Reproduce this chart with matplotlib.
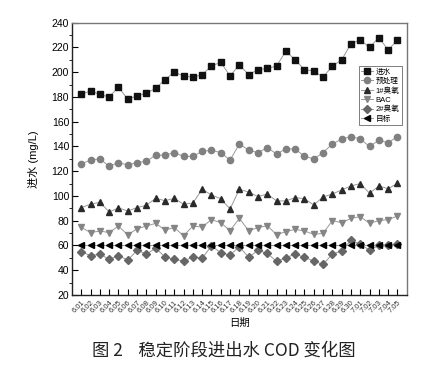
import numpy as np
import matplotlib
matplotlib.use('Agg')
import matplotlib.pyplot as plt
from matplotlib.ticker import MultipleLocator

plt.rcParams['font.family'] = ['Liberation Sans', 'Noto Sans CJK SC', 'DejaVu Sans']

# dates 6.01 - 6.30, 7.01 - 7.05
dates = ['6.%02d' % d for d in range(1, 31)] + ['7.%02d' % d for d in range(1, 6)]

influent = [182, 185, 182, 180, 188, 178, 181, 183, 187, 194, 200, 197, 196, 198, 205, 208, 197,
            206, 198, 202, 203, 205, 217, 210, 202, 201, 196, 205, 210, 223, 226, 220, 228, 218, 226]
pretreat = [126, 129, 130, 124, 127, 125, 127, 128, 133, 133, 135, 132, 132, 136, 137, 135, 129,
            142, 137, 135, 139, 134, 138, 138, 132, 130, 135, 142, 146, 148, 146, 140, 145, 143, 148]
ozone1 = [90.6, 93.3, 94.9, 87.1, 90.3, 87.9, 90.6, 92.5, 98.1, 96.2, 98.1, 93.3, 94.3, 105.4, 100.8,
          97.8, 89.5, 105.4, 103.2, 99.5, 101.6, 96, 96, 98.7, 97.8, 92.7, 99.2, 101.6, 104.9, 108.1,
          110, 102.2, 108.1, 105.9, 110.2]
bac = [74.7, 70.4, 71.7, 70.4, 75.7, 68.5, 73.6, 75.7, 77.9, 72.5, 74.4, 67.9, 75.7, 74.9, 80.9,
       78.4, 72, 81.9, 72, 74.4, 76, 68.7, 71.2, 73, 71.7, 69, 69.8, 80.1, 78.4, 81.9, 83.3, 77.9,
       80.1, 80.9, 83.8]
ozone2 = [55, 51.8, 53.1, 48.8, 51.8, 48.2, 56.1, 53.1, 57.7, 50.9, 48.8, 47.4, 50.7, 49.6, 59.6,
          54.2, 52.3, 59, 50.4, 56.1, 53.6, 47.2, 50.1, 53.1, 50.4, 47.4, 44.7, 53.1, 55.5, 64.4,
          60.9, 56.3, 60.1, 60.4, 60.9]
target = [60] * 35

x = np.arange(len(dates))

fig = plt.figure(figsize=(4.47, 3.72), dpi=100)
ax = fig.add_axes([0.161, 0.207, 0.749, 0.732])

series = [
    (influent, 's', '#111111', '进水'),
    (pretreat, 'o', '#808080', '预处理'),
    (ozone1, '^', '#2a2a2a', '1#臭氧'),
    (bac, 'v', '#858585', 'BAC'),
    (ozone2, 'D', '#666666', '2#臭氧'),
    (target, '<', '#000000', '目标'),
]
for vals, m, c, lab in series:
    ms = 3.8 if m == 'D' else 4.5
    ax.plot(x, vals, marker=m, color='#999999', lw=0.7, markerfacecolor=c,
            markeredgecolor=c, markersize=ms, label=lab)

ax.set_xlim(-1, 35)
ax.set_ylim(20, 240)
ax.yaxis.set_major_locator(MultipleLocator(20))
ax.yaxis.set_minor_locator(MultipleLocator(10))
ax.set_xticks(x)
ax.set_xticklabels(dates, rotation=45, fontsize=5.5, ha='right', rotation_mode='anchor',
                   color='#333333')
ax.tick_params(axis='both', direction='in', width=0.8)
ax.tick_params(axis='y', which='major', length=4, labelsize=7.5, pad=2)
ax.tick_params(axis='y', which='minor', length=2)
ax.tick_params(axis='x', length=4, pad=3)
for s in ['left', 'bottom']:
    ax.spines[s].set_color('#222222')
    ax.spines[s].set_linewidth(1.0)
for s in ['top', 'right']:
    ax.spines[s].set_color('#777777')
    ax.spines[s].set_linewidth(1.0)

ax.set_ylabel('进水 (mg/L)', fontsize=8, labelpad=9)
ax.set_xlabel('日期', fontsize=7.5, labelpad=2)

leg = ax.legend(loc='upper right', bbox_to_anchor=(0.985, 0.84), fontsize=5.5, frameon=True,
                fancybox=False, edgecolor='#444444', handlelength=1.6, handletextpad=0.3,
                borderpad=0.3, labelspacing=0.25, borderaxespad=0)
leg.get_frame().set_linewidth(0.6)

fig.text(0.50, 0.058, '图 2    稳定阶段进出水 COD 变化图', ha='center', va='center',
         fontsize=12.5, family=['Noto Sans CJK SC', 'DejaVu Sans'], color='#222222')

fig.savefig('out.png', dpi=100)
